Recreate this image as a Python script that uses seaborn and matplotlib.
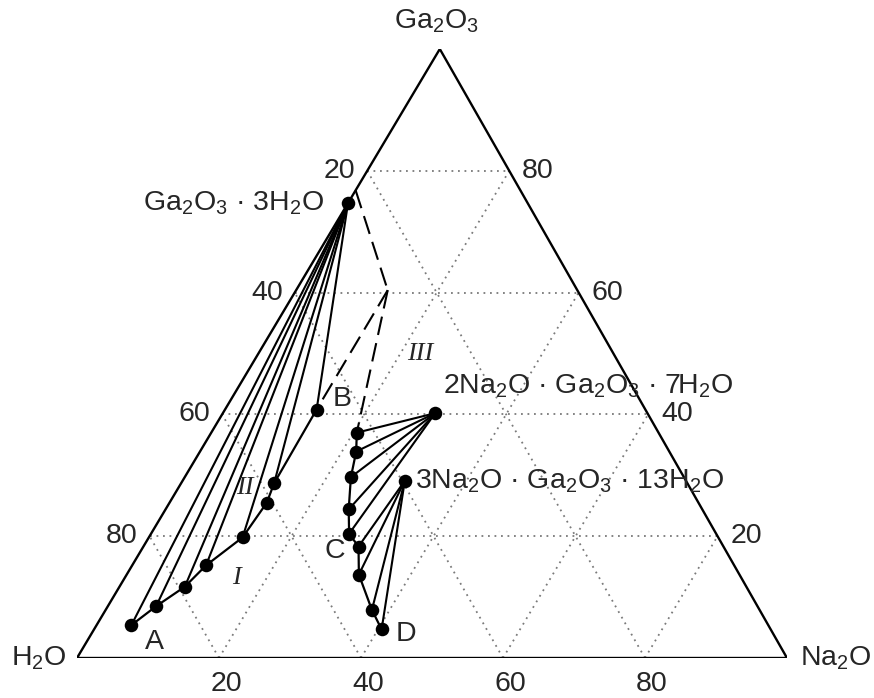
import matplotlib
matplotlib.use("Agg")
import matplotlib.pyplot as plt
import numpy as np
import pandas as pd
import seaborn as sns

sns.set_style("white")
plt.rcParams["font.family"] = ["Liberation Sans", "DejaVu Sans"]
plt.rcParams["mathtext.fontset"] = "custom"
plt.rcParams["mathtext.rm"] = "Liberation Sans"
plt.rcParams["mathtext.default"] = "regular"

# ---- compositions in wt.% (Na2O, Ga2O3); H2O is the balance ----
# liquid branch saturated with Ga2O3·3H2O, from A to B
ab_na2o = [4.9, 6.8, 9.2, 10.4, 13.2, 13.7, 13.1, 12.9]
ab_ga2o3 = [5.4, 8.5, 11.7, 15.2, 19.8, 25.5, 28.7, 40.8]
# liquid branch saturated with the sodium gallates, through C to D
cd_na2o = [20.5, 22.0, 23.4, 25.8, 27.9, 30.3, 32.7, 37.5, 40.5]
cd_ga2o3 = [37.0, 33.9, 29.7, 24.4, 20.4, 18.3, 13.7, 7.9, 4.7]
# solid phases
solid_labels = ["Ga$_2$O$_3$ · 3H$_2$O",
                "2Na$_2$O · Ga$_2$O$_3$ · 7H$_2$O",
                "3Na$_2$O · Ga$_2$O$_3$ · 13H$_2$O"]
solid_na2o = [0.0, 29.9, 31.3]
solid_ga2o3 = [74.7, 40.2, 29.1]
# tie lines: which liquid points each solid connects to
tie_ab_from_hydrate = [0, 1, 2, 3, 4, 6, 7]
tie_cd_from_2na = [0, 1, 2, 3, 4]
tie_cd_from_3na = [5, 6, 7, 8]
# dashed boundary of field III
dash_na2o = [0.0, 12.9]
dash_ga2o3 = [76.8, 60.4]
grid_levels = [20, 40, 60, 80]
field_names = ["I", "II", "III"]
field_na2o = [15.8, 9.4, 22.9]
field_ga2o3 = [13.1, 27.9, 49.9]

APEX = 0.511  # horizontal position of the Ga2O3 corner along the base


def tern(na, ga):
    na = np.asarray(na, dtype=float)
    ga = np.asarray(ga, dtype=float)
    return na + APEX * ga, ga


def segments_frame(segs):
    rows = []
    for i, (na, ga) in enumerate(segs):
        x, y = tern(na, ga)
        for k, (xi, yi) in enumerate(zip(x, y)):
            rows.append({"seg": i, "order": k, "x": xi, "y": yi})
    return pd.DataFrame(rows)


def draw(ax, segs, **kw):
    df = segments_frame(segs)
    sns.lineplot(data=df, x="x", y="y", units="seg", estimator=None,
                 sort=False, legend=False, ax=ax, **kw)


fig = plt.figure(figsize=(8.74, 6.98), dpi=100)
ax = fig.add_axes([77 / 874, 40 / 698, 710 / 874, 609 / 698])
ax.set_xlim(0, 100)
ax.set_ylim(0, 100)
ax.axis("off")

# dotted composition grid
grid = []
for v in grid_levels:
    grid.append(([0, 100 - v], [v, v]))          # constant Ga2O3
    grid.append(([v, v], [0, 100 - v]))          # constant Na2O
    grid.append(([100 - v, 0], [0, 100 - v]))    # constant H2O
draw(ax, grid, color="#7a7a7a", linewidth=1.3, linestyle=(0, (1, 2.6)))

# triangle frame
draw(ax, [([0, 100, 0, 0], [0, 0, 100, 0])], color="black", linewidth=1.7)

# tie lines
ties = []
for i in tie_ab_from_hydrate:
    ties.append(([solid_na2o[0], ab_na2o[i]], [solid_ga2o3[0], ab_ga2o3[i]]))
for i in tie_cd_from_2na:
    ties.append(([solid_na2o[1], cd_na2o[i]], [solid_ga2o3[1], cd_ga2o3[i]]))
for i in tie_cd_from_3na:
    ties.append(([solid_na2o[2], cd_na2o[i]], [solid_ga2o3[2], cd_ga2o3[i]]))
draw(ax, ties, color="black", linewidth=1.5)

# solubility branches
draw(ax, [(ab_na2o, ab_ga2o3), (cd_na2o, cd_ga2o3)], color="black", linewidth=1.6)

# dashed field boundaries
dashed = [
    (dash_na2o, dash_ga2o3),
    ([dash_na2o[1], ab_na2o[-1]], [dash_ga2o3[1], ab_ga2o3[-1]]),
    ([dash_na2o[1], cd_na2o[0]], [dash_ga2o3[1], cd_ga2o3[0]]),
]
draw(ax, dashed, color="black", linewidth=1.5, linestyle=(0, (9, 4)))

# points
px, py = tern(ab_na2o + cd_na2o + solid_na2o, ab_ga2o3 + cd_ga2o3 + solid_ga2o3)
sns.scatterplot(x=px, y=py, ax=ax, color="black", s=95, edgecolor="black",
                linewidth=0, zorder=5, legend=False)

FS = 20.5


def label(text, na, ga, dx, dy, **kw):
    x, y = tern(na, ga)
    ax.annotate(text, xy=(float(x), float(y)), xytext=(dx, dy),
                textcoords="offset pixels", fontsize=kw.pop("fontsize", FS),
                annotation_clip=False, **kw)


# tick labels
for v in grid_levels:
    label(str(v), 0, 100 - v, -12, 0, ha="right", va="center")     # H2O
    label(str(v), 100 - v, v, 13, 0, ha="left", va="center")       # Ga2O3
    label(str(v), v, 0, 7, -26, ha="center", va="center")          # Na2O

# corner names
label("H$_2$O", 0, 0, -10, 0, ha="right", va="center")
label("Na$_2$O", 100, 0, 13, 0, ha="left", va="center")
label("Ga$_2$O$_3$", 0, 100, -3, 28, ha="center", va="center")

# solid phase labels
label(solid_labels[0], solid_na2o[0], solid_ga2o3[0], -24, 0, ha="right", va="center")
label(solid_labels[1], solid_na2o[1], solid_ga2o3[1], 8, 27, ha="left", va="center")
label(solid_labels[2], solid_na2o[2], solid_ga2o3[2], 10, 0, ha="left", va="center")

# invariant point letters
label("A", ab_na2o[0], ab_ga2o3[0], 23, -17, ha="center", va="center")
label("B", ab_na2o[-1], ab_ga2o3[-1], 26, 11, ha="center", va="center")
label("C", cd_na2o[4], cd_ga2o3[4], -14, -17, ha="center", va="center")
label("D", cd_na2o[-1], cd_ga2o3[-1], 24, -5, ha="center", va="center")

# crystallisation fields
for name, na, ga in zip(field_names, field_na2o, field_ga2o3):
    label(name, na, ga, 0, 0, ha="center", va="center",
          fontsize=19, family="Liberation Serif", style="italic")

fig.savefig("out.png", dpi=100)
